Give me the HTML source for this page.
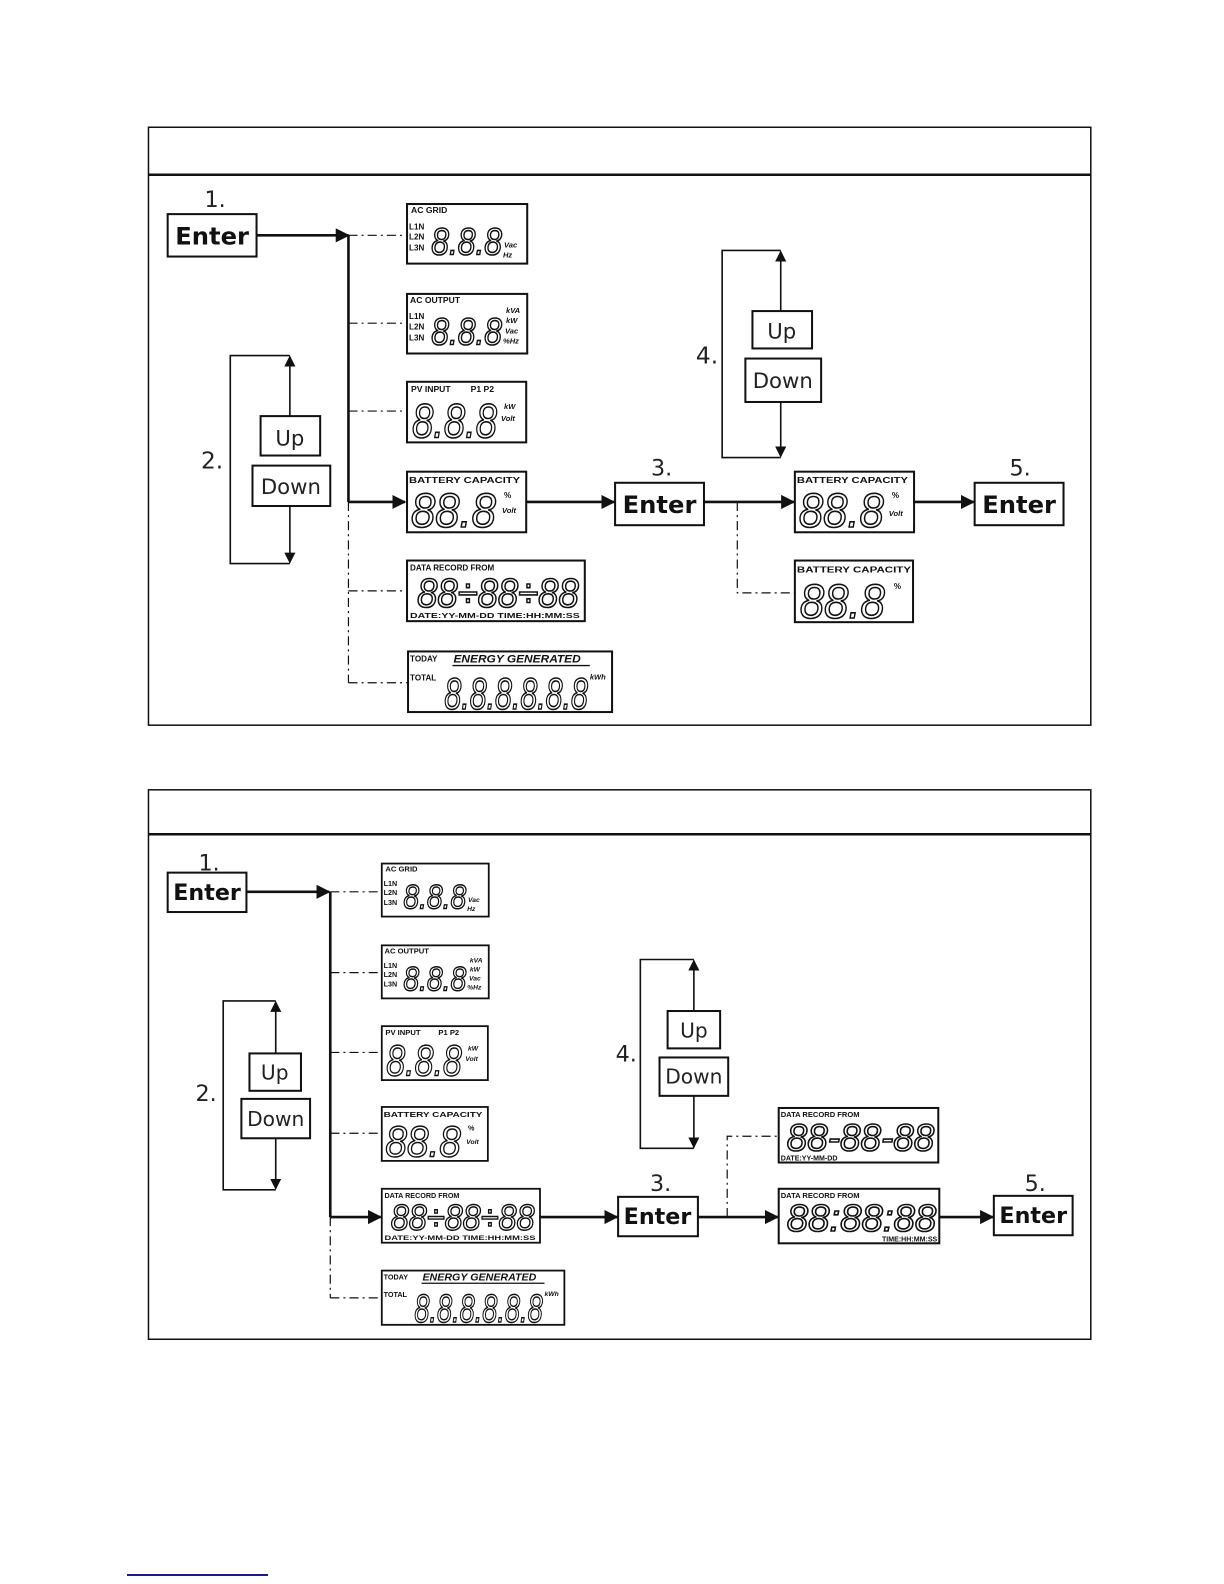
<!DOCTYPE html>
<html><head><meta charset="utf-8"><style>
html,body{margin:0;padding:0;background:#fff}
svg{display:block}
.bx{fill:#fff;stroke:#111;stroke-width:2}
.ln{stroke:#111;stroke-width:2.6;fill:none}
.th{stroke:#111;stroke-width:1.6;fill:none}
.dd{stroke:#111;stroke-width:1.2;fill:none;stroke-dasharray:9 4 2 4}
.lb{font-family:"Liberation Sans",sans-serif;font-weight:bold;fill:#111}
.dg{font-family:"Liberation Sans",sans-serif;font-style:italic;fill:#fff;stroke:#111;stroke-width:1.6}
.ui{font-family:"DejaVu Sans",sans-serif;fill:#222}
.en{font-family:"DejaVu Sans",sans-serif;font-weight:bold;fill:#111}
</style></head><body>
<svg width="1224" height="1584" viewBox="0 0 1224 1584" xmlns="http://www.w3.org/2000/svg">
<defs>
<marker id="ar" viewBox="0 0 10 10" refX="9" refY="5" markerWidth="11" markerHeight="11" markerUnits="userSpaceOnUse" orient="auto">
<path d="M0,0 L10,5 L0,10 z" fill="#111"/></marker>
<marker id="a2" viewBox="0 0 10 10" refX="9" refY="5" markerWidth="14" markerHeight="14" markerUnits="userSpaceOnUse" orient="auto">
<path d="M0,0 L10,5 L0,10 z" fill="#111"/></marker>
<g id="acgrid">
<rect class="bx" x="0" y="0" width="119" height="59" stroke-width="1.6"/>
<text class="lb" x="4" y="9" font-size="8.5">AC GRID</text>
<text class="lb" x="2" y="25" font-size="8">L1N</text>
<text class="lb" x="2" y="35" font-size="8">L2N</text>
<text class="lb" x="2" y="46" font-size="8">L3N</text>
<text class="dg" x="24" y="50" font-size="38" textLength="70" lengthAdjust="spacingAndGlyphs">8.8.8</text>
<text class="lb" x="96" y="43" font-size="7.5" font-style="italic">Vac</text>
<text class="lb" x="95" y="53" font-size="7.5" font-style="italic">Hz</text>
</g>
<g id="acout">
<rect class="bx" x="0" y="0" width="119" height="59" stroke-width="1.6"/>
<text class="lb" x="3" y="9" font-size="8.5">AC OUTPUT</text>
<text class="lb" x="2" y="25" font-size="8">L1N</text>
<text class="lb" x="2" y="35" font-size="8">L2N</text>
<text class="lb" x="2" y="46" font-size="8">L3N</text>
<text class="dg" x="24" y="50" font-size="38" textLength="70" lengthAdjust="spacingAndGlyphs">8.8.8</text>
<text class="lb" x="98" y="19" font-size="7.5" font-style="italic">kVA</text>
<text class="lb" x="98" y="29" font-size="7.5" font-style="italic">kW</text>
<text class="lb" x="97" y="39" font-size="7.5" font-style="italic">Vac</text>
<text class="lb" x="95" y="49" font-size="7.5" font-style="italic">%Hz</text>
</g>
<g id="pv">
<rect class="bx" x="0" y="0" width="118" height="60" stroke-width="1.6"/>
<text class="lb" x="4" y="10" font-size="8.5">PV INPUT</text>
<text class="lb" x="63" y="10" font-size="8.5">P1 P2</text>
<text class="dg" x="5" y="55" font-size="48" textLength="84" lengthAdjust="spacingAndGlyphs">8.8.8</text>
<text class="lb" x="96" y="27" font-size="7.5" font-style="italic">kW</text>
<text class="lb" x="93" y="39" font-size="7.5" font-style="italic">Volt</text>
</g>
<g id="batt">
<rect class="bx" x="0" y="0" width="118" height="60" stroke-width="1.6"/>
<text class="lb" x="2" y="11" font-size="8.5" textLength="110" lengthAdjust="spacingAndGlyphs">BATTERY CAPACITY</text>
<text class="dg" x="4" y="55" font-size="48" textLength="84" lengthAdjust="spacingAndGlyphs">88.8</text>
<text class="lb" x="96" y="26" font-size="8">%</text>
<text class="lb" x="94" y="41" font-size="7.5" font-style="italic">Volt</text>
</g>
<g id="data">
<rect class="bx" x="0" y="0" width="176" height="60" stroke-width="1.6"/>
<text class="lb" x="3" y="10" font-size="8">DATA RECORD FROM</text>
<text class="dg" x="10" y="46" font-size="40" textLength="160" lengthAdjust="spacingAndGlyphs">88÷88÷88</text>
<text class="lb" x="3" y="57" font-size="7.5" textLength="168" lengthAdjust="spacingAndGlyphs">DATE:YY-MM-DD  TIME:HH:MM:SS</text>
</g>
<g id="energy">
<rect class="bx" x="0" y="0" width="202" height="60" stroke-width="1.6"/>
<text class="lb" x="2" y="10" font-size="8">TODAY</text>
<text class="lb" x="45" y="11" font-size="11" font-style="italic" textLength="126" lengthAdjust="spacingAndGlyphs">ENERGY GENERATED</text>
<line x1="44" y1="14" x2="180" y2="14" stroke="#111" stroke-width="1.3"/>
<text class="lb" x="2" y="29" font-size="8">TOTAL</text>
<text class="dg" x="36" y="57" font-size="44" textLength="142" lengthAdjust="spacingAndGlyphs">8.8.8.8.8.8</text>
<text class="lb" x="180" y="28" font-size="7.5" font-style="italic">kWh</text>
</g>
</defs>

<line x1="127" y1="1575" x2="268" y2="1575" stroke="#1a1a8a" stroke-width="2"/>

<g transform="scale(1.01)">
<rect x="147" y="126" width="933" height="592" fill="none" stroke="#111" stroke-width="1.5"/>
<line x1="147" y1="173" x2="1080" y2="173" stroke="#111" stroke-width="2.5"/>

<text class="ui" x="213" y="205" font-size="22" text-anchor="middle">1.</text>
<rect class="bx" x="166" y="212" width="88" height="42"/>
<text class="en" x="210" y="242" font-size="24" text-anchor="middle">Enter</text>
<line class="ln" x1="254" y1="233" x2="345" y2="233" marker-end="url(#a2)"/>
<line class="ln" x1="345" y1="233" x2="345" y2="497"/>
<line class="ln" x1="345" y1="497" x2="401" y2="497" marker-end="url(#a2)"/>
<line class="dd" x1="345" y1="233" x2="403" y2="233"/>
<line class="dd" x1="345" y1="320" x2="403" y2="320"/>
<line class="dd" x1="345" y1="407" x2="403" y2="407"/>
<line class="dd" x1="345" y1="497" x2="345" y2="676"/>
<line class="dd" x1="345" y1="585" x2="403" y2="585"/>
<line class="dd" x1="345" y1="676" x2="404" y2="676"/>

<use href="#acgrid" x="403" y="202"/>
<use href="#acout" x="403" y="291"/>
<use href="#pv" x="403" y="378"/>
<use href="#batt" x="403" y="467"/>
<use href="#data" x="403" y="555"/>
<use href="#energy" x="404" y="645"/>

<polyline class="th" points="287,352 228,352 228,558 287,558"/>
<line class="th" x1="287" y1="412" x2="287" y2="353" marker-end="url(#ar)"/>
<line class="th" x1="287" y1="501" x2="287" y2="557" marker-end="url(#ar)"/>
<rect class="bx" x="258" y="412" width="59" height="39" stroke-width="1.5"/>
<text class="ui" x="287" y="441" font-size="21" text-anchor="middle">Up</text>
<rect class="bx" x="250" y="461" width="77" height="40" stroke-width="1.5"/>
<text class="ui" x="288" y="489" font-size="21" text-anchor="middle">Down</text>
<text class="ui" x="210" y="464" font-size="23" text-anchor="middle">2.</text>

<line class="ln" x1="521" y1="497" x2="608" y2="497" marker-end="url(#a2)"/>
<text class="ui" x="655" y="471" font-size="22" text-anchor="middle">3.</text>
<rect class="bx" x="609" y="478" width="88" height="42"/>
<text class="en" x="653" y="508" font-size="24" text-anchor="middle">Enter</text>
<line class="ln" x1="697" y1="497" x2="786" y2="497" marker-end="url(#a2)"/>
<polyline class="dd" points="730,497 730,587 787,587"/>
<use href="#batt" x="787" y="467"/>
<g transform="translate(787,555)">
<rect class="bx" x="0" y="0" width="117" height="61" stroke-width="1.6"/>
<text class="lb" x="2" y="12" font-size="8.5" textLength="113" lengthAdjust="spacingAndGlyphs">BATTERY CAPACITY</text>
<text class="dg" x="5" y="57" font-size="48" textLength="84" lengthAdjust="spacingAndGlyphs">88.8</text>
<text class="lb" x="98" y="28" font-size="8">%</text>
</g>
<rect x="880" y="500" width="24" height="20" fill="#fff"/>
<text class="lb" x="880" y="511" font-size="7.5" font-style="italic">Volt</text>
<line class="ln" x1="904" y1="497" x2="964" y2="497" marker-end="url(#a2)"/>
<text class="ui" x="1010" y="471" font-size="22" text-anchor="middle">5.</text>
<rect class="bx" x="965" y="478" width="88" height="42"/>
<text class="en" x="1009" y="508" font-size="24" text-anchor="middle">Enter</text>

<polyline class="th" points="773,248 715,248 715,453 773,453"/>
<line class="th" x1="773" y1="308" x2="773" y2="249" marker-end="url(#ar)"/>
<line class="th" x1="773" y1="398" x2="773" y2="452" marker-end="url(#ar)"/>
<rect class="bx" x="745" y="308" width="59" height="37" stroke-width="1.5"/>
<text class="ui" x="774" y="335" font-size="21" text-anchor="middle">Up</text>
<rect class="bx" x="738" y="355" width="75" height="43" stroke-width="1.5"/>
<text class="ui" x="775" y="384" font-size="21" text-anchor="middle">Down</text>
<text class="ui" x="700" y="360" font-size="23" text-anchor="middle">4.</text>

<rect x="147" y="782" width="933" height="544" fill="none" stroke="#111" stroke-width="1.5"/>
<line x1="147" y1="826" x2="1080" y2="826" stroke="#111" stroke-width="2.5"/>

<text class="ui" x="207" y="862" font-size="22" text-anchor="middle">1.</text>
<rect class="bx" x="166" y="864" width="78" height="39"/>
<text class="en" x="205" y="891" font-size="22" text-anchor="middle">Enter</text>
<line class="ln" x1="244" y1="883" x2="326" y2="883" marker-end="url(#a2)"/>
<line class="ln" x1="327" y1="883" x2="327" y2="1205"/>
<line class="ln" x1="327" y1="1205" x2="377" y2="1205" marker-end="url(#a2)"/>
<line class="dd" x1="327" y1="883" x2="378" y2="883"/>
<line class="dd" x1="327" y1="963" x2="378" y2="963"/>
<line class="dd" x1="327" y1="1042" x2="378" y2="1042"/>
<line class="dd" x1="327" y1="1122" x2="378" y2="1122"/>
<line class="dd" x1="327" y1="1205" x2="327" y2="1285"/>
<line class="dd" x1="327" y1="1285" x2="378" y2="1285"/>

<g transform="translate(378,855) scale(0.89)"><use href="#acgrid"/></g>
<g transform="translate(378,936) scale(0.89)"><use href="#acout"/></g>
<g transform="translate(378,1016) scale(0.89)"><use href="#pv"/></g>
<g transform="translate(378,1096) scale(0.89)"><use href="#batt"/></g>
<g transform="translate(378,1177) scale(0.89)"><use href="#data"/></g>
<g transform="translate(378,1258) scale(0.895)"><use href="#energy"/></g>

<polyline class="th" points="273,991 221,991 221,1178 273,1178"/>
<line class="th" x1="273" y1="1043" x2="273" y2="992" marker-end="url(#ar)"/>
<line class="th" x1="273" y1="1127" x2="273" y2="1177" marker-end="url(#ar)"/>
<rect class="bx" x="247" y="1043" width="51" height="37" stroke-width="1.5"/>
<text class="ui" x="272" y="1069" font-size="20" text-anchor="middle">Up</text>
<rect class="bx" x="239" y="1088" width="68" height="39" stroke-width="1.5"/>
<text class="ui" x="273" y="1115" font-size="20" text-anchor="middle">Down</text>
<text class="ui" x="204" y="1090" font-size="22" text-anchor="middle">2.</text>

<line class="ln" x1="535" y1="1205" x2="611" y2="1205" marker-end="url(#a2)"/>
<text class="ui" x="654" y="1179" font-size="22" text-anchor="middle">3.</text>
<rect class="bx" x="612" y="1185" width="79" height="39"/>
<text class="en" x="651" y="1212" font-size="22" text-anchor="middle">Enter</text>
<line class="ln" x1="691" y1="1205" x2="770" y2="1205" marker-end="url(#a2)"/>
<polyline class="dd" points="720,1205 720,1125 771,1125"/>

<g transform="translate(771,1097)">
<rect class="bx" x="0" y="0" width="158" height="54" stroke-width="1.5"/>
<text class="lb" x="2" y="9" font-size="7.5">DATA RECORD FROM</text>
<text class="dg" x="8" y="42" font-size="38" textLength="146" lengthAdjust="spacingAndGlyphs">88-88-88</text>
<text class="lb" x="2" y="52" font-size="7">DATE:YY-MM-DD</text>
</g>
<g transform="translate(771,1177)">
<rect class="bx" x="0" y="0" width="159" height="54" stroke-width="1.5"/>
<text class="lb" x="2" y="9" font-size="7.5">DATA RECORD FROM</text>
<text class="dg" x="8" y="42" font-size="38" textLength="148" lengthAdjust="spacingAndGlyphs">88:88:88</text>
<text class="lb" x="157" y="52" font-size="7" text-anchor="end">TIME:HH:MM:SS</text>
</g>
<line class="ln" x1="930" y1="1205" x2="983" y2="1205" marker-end="url(#a2)"/>
<text class="ui" x="1025" y="1179" font-size="22" text-anchor="middle">5.</text>
<rect class="bx" x="984" y="1184" width="78" height="39"/>
<text class="en" x="1023" y="1211" font-size="22" text-anchor="middle">Enter</text>

<polyline class="th" points="687,950 634,950 634,1137 687,1137"/>
<line class="th" x1="687" y1="1001" x2="687" y2="951" marker-end="url(#ar)"/>
<line class="th" x1="687" y1="1085" x2="687" y2="1136" marker-end="url(#ar)"/>
<rect class="bx" x="661" y="1001" width="52" height="37" stroke-width="1.5"/>
<text class="ui" x="687" y="1027" font-size="20" text-anchor="middle">Up</text>
<rect class="bx" x="653" y="1047" width="68" height="38" stroke-width="1.5"/>
<text class="ui" x="687" y="1073" font-size="20" text-anchor="middle">Down</text>
<text class="ui" x="620" y="1051" font-size="22" text-anchor="middle">4.</text>
</g>
</svg>
</body></html>
